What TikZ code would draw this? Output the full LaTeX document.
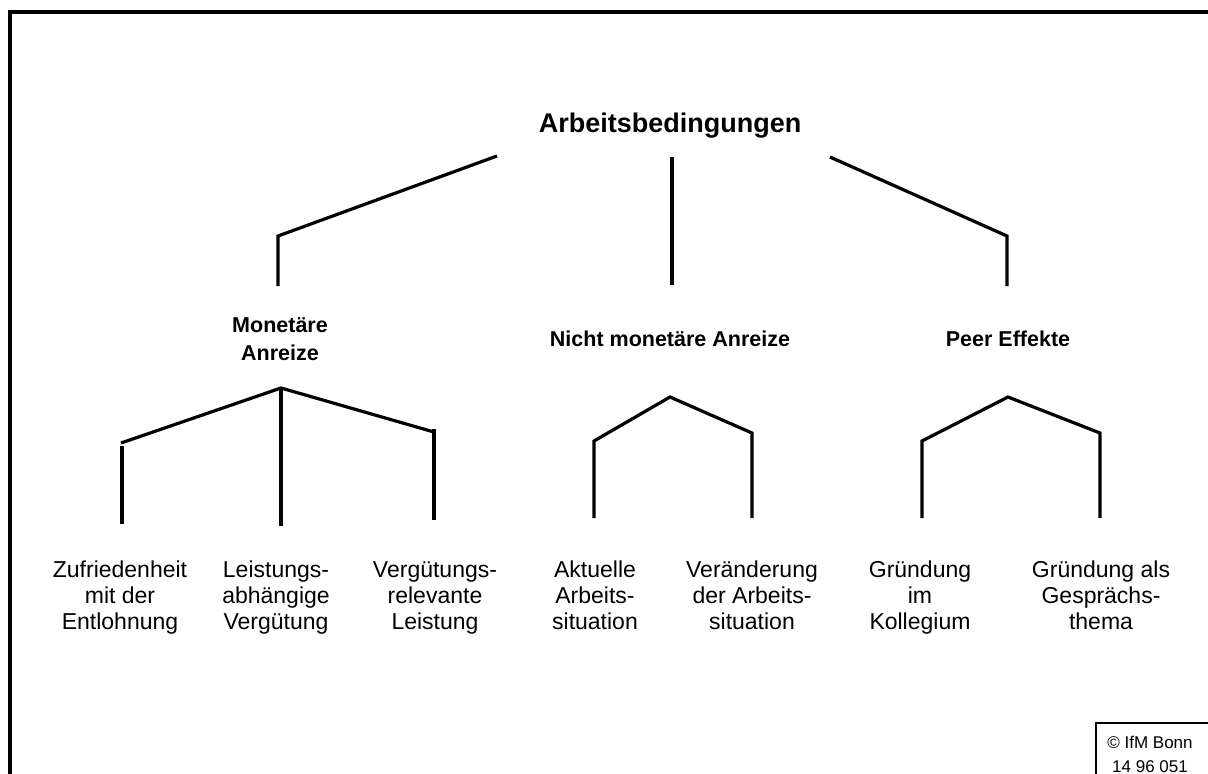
\documentclass[tikz,border=0pt]{standalone}
\usepackage{fontspec}
\setmainfont{Liberation Sans}
\begin{document}
\begin{tikzpicture}[x=1pt,y=-1pt,
  tree/.style={line width=3.2pt,line join=miter},
  frame/.style={line width=4pt},
  titletext/.style={font=\fontsize{27}{30}\selectfont\bfseries,anchor=base,inner sep=0pt},
  cattext/.style={font=\fontsize{21.5}{28}\selectfont\bfseries,align=center,anchor=base,inner sep=0pt},
  leaftext/.style={font=\fontsize{23}{26}\selectfont,align=center,anchor=base,inner sep=0pt},
  credit/.style={font=\fontsize{17}{24}\selectfont,align=center,anchor=base,inner sep=0pt}]
\useasboundingbox (0,0) rectangle (1208,774);
\fill[white] (0,0) rectangle (1208,774);
% outer frame
\coordinate (fbl) at (10,790);
\coordinate (ftl) at (10,12);
\coordinate (ftr) at (1225,12);
\draw[frame] (fbl) -- (ftl) -- (ftr);
% texts (base anchor = baseline of last line)
\node[titletext] (root) at (670,132) {Arbeitsbedingungen};
\node[cattext] (mon) at (280,360) {Monetäre\\Anreize};
\node[cattext] (nmon) at (670,346) {Nicht monetäre Anreize};
\node[cattext] (peer) at (1008,346) {Peer Effekte};
\node[leaftext] (l1) at (120,629) {Zufriedenheit\\mit der\\Entlohnung};
\node[leaftext] (l2) at (276,629) {Leistungs-\\abhängige\\Vergütung};
\node[leaftext] (l3) at (435,629) {Vergütungs-\\relevante\\Leistung};
\node[leaftext] (l4) at (595,629) {Aktuelle\\Arbeits-\\situation};
\node[leaftext] (l5) at (752,629) {Veränderung\\der Arbeits-\\situation};
\node[leaftext] (l6) at (920,629) {Gründung\\im\\Kollegium};
\node[leaftext] (l7) at (1101,629) {Gründung als\\Gesprächs-\\thema};
% top level connectors
\coordinate (ra) at (497,156);
\coordinate (rac) at (278,236);
\coordinate (rae) at (278,286);
\coordinate (rb) at (672,157);
\coordinate (rbe) at (672,285);
\coordinate (rc) at (830,157);
\coordinate (rcc) at (1007,236);
\coordinate (rce) at (1007,286);
\draw[tree] (ra) -- (rac) -- (rae);
\draw[tree] (rb) -- (rbe);
\draw[tree] (rc) -- (rcc) -- (rce);
% Monetaere subtree
\coordinate (ma) at (281,388);
\coordinate (m1c) at (121,443);
\coordinate (m1t) at (122,446);
\coordinate (m1e) at (122,524);
\coordinate (m2e) at (281,526);
\coordinate (m3c) at (434,432);
\coordinate (m3t) at (434,429);
\coordinate (m3e) at (434,520);
\draw[tree] (m1c) -- (ma) -- (m3c);
\draw[tree] (m1t) -- (m1e);
\draw[tree] (ma) -- (m2e);
\draw[tree] (m3t) -- (m3e);
% nicht monetaer subtree
\coordinate (na) at (670,397);
\coordinate (n1c) at (594,441);
\coordinate (n1e) at (594,518);
\coordinate (n2c) at (752,433);
\coordinate (n2e) at (752,518);
\draw[tree] (n1e) -- (n1c) -- (na) -- (n2c) -- (n2e);
% peer subtree
\coordinate (pa) at (1008,397);
\coordinate (p1c) at (922,441);
\coordinate (p1e) at (922,518);
\coordinate (p2c) at (1100,433);
\coordinate (p2e) at (1100,518);
\draw[tree] (p1e) -- (p1c) -- (pa) -- (p2c) -- (p2e);
% credit box
\coordinate (cbl) at (1096,790);
\coordinate (ctr) at (1220,723);
\draw[line width=1.5pt] (cbl) rectangle (ctr);
\node[credit] (cr) at (1150,772) {© IfM Bonn\\14 96 051};
\end{tikzpicture}
\end{document}
